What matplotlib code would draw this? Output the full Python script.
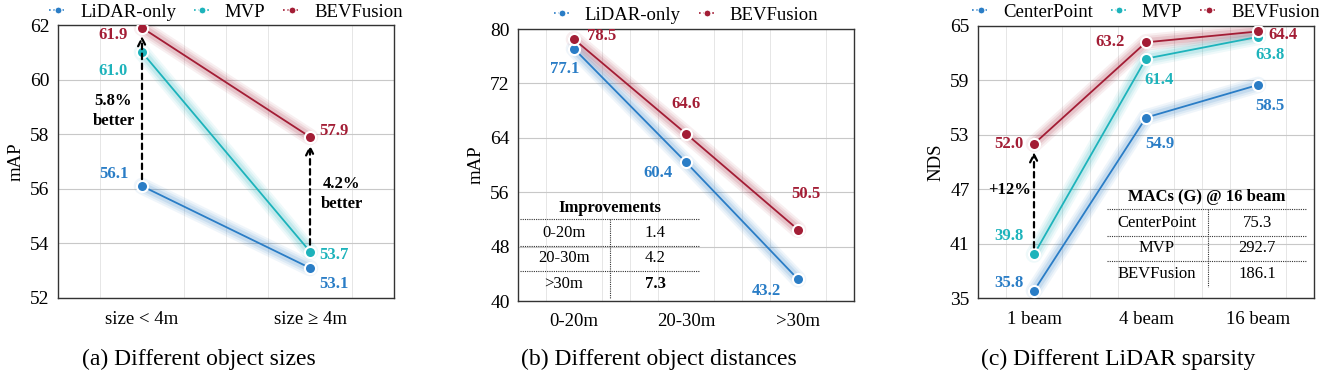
import matplotlib
matplotlib.use("Agg")
import matplotlib.pyplot as plt
from matplotlib.ticker import MultipleLocator
from matplotlib.lines import Line2D

plt.rcParams['font.family'] = ['Liberation Serif', 'DejaVu Serif']
plt.rcParams['mathtext.fontset'] = 'stix'

BLUE = '#2a7dc6'
TEAL = '#1db3bb'
RED = '#a31d35'

# ---- data ----
sizes_cats = ['size < 4m', 'size ≥ 4m']
sizes_lidar = [56.1, 53.1]
sizes_mvp = [61.0, 53.7]
sizes_bev = [61.9, 57.9]
sizes_yticks = [52, 54, 56, 58, 60, 62]

dist_cats = ['0-20m', '20-30m', '>30m']
dist_lidar = [77.1, 60.4, 43.2]
dist_bev = [78.5, 64.6, 50.5]
dist_yticks = [40, 48, 56, 64, 72, 80]
dist_improve_rows = ['0-20m', '20-30m', '>30m']
dist_improve_vals = ['1.4', '4.2', '7.3']

beam_cats = ['1 beam', '4 beam', '16 beam']
beam_center = [35.8, 54.9, 58.5]
beam_mvp = [39.8, 61.4, 63.8]
beam_bev = [52.0, 63.2, 64.4]
beam_yticks = [35, 41, 47, 53, 59, 65]
macs_models = ['CenterPoint', 'MVP', 'BEVFusion']
macs_vals = ['75.3', '292.7', '186.1']

W, H = 1319, 374
fig = plt.figure(figsize=(W / 100, H / 100), dpi=100)


def px_axes(x0, x1, y0, y1):
    return fig.add_axes([x0 / W, 1 - y1 / H, (x1 - x0) / W, (y1 - y0) / H])


def fpx(x, y):
    return (x / W, 1 - y / H)


def glow_line(ax, xs, ys, color):
    for lw, a in [(12, 0.07), (9, 0.09), (6, 0.13)]:
        ax.plot(xs, ys, color=color, lw=lw, alpha=a, solid_capstyle='round', zorder=2)
    ax.plot(xs, ys, color=color, lw=1.3, zorder=3, marker='o', ms=8,
            mfc=color, mec='white', mew=1.5)


def style(ax, cats, yticks, ylabel):
    ax.set_xlim(-0.5, len(cats) - 0.5)
    ax.set_ylim(yticks[0], yticks[-1])
    ax.set_yticks(yticks)
    ax.set_xticks(range(len(cats)))
    ax.set_xticklabels(cats, fontsize=13.5)
    ax.xaxis.set_minor_locator(MultipleLocator(0.25))
    ax.grid(axis='y', which='major', color='#c8c8c8', lw=0.8, zorder=0)
    ax.grid(axis='x', which='minor', color='#e6e6e6', lw=0.7, zorder=0)
    ax.tick_params(which='both', length=0, labelsize=14, pad=6)
    ax.tick_params(axis='x', labelsize=13.5, pad=9)
    ax.set_ylabel(ylabel, fontsize=13.5)
    for s in ax.spines.values():
        s.set_color('#333333')
        s.set_linewidth(1.0)


def legend(ax, names, colors, x, y):
    handles = [Line2D([], [], color=c, ls=':', lw=1.2, marker='o', ms=5, mec='white', mew=0.8)
               for c in colors]
    fig.legend(handles, names, loc='center', bbox_to_anchor=fpx(x, y), ncol=len(names),
               frameon=False, fontsize=13.5, handlelength=0.9, handletextpad=0.75,
               columnspacing=0.95, borderaxespad=0, borderpad=0)


def vlabel(ax, x, y, s, color, ha='center'):
    ax.text(x, y, s, color=color, fontsize=12, fontweight='bold', ha=ha, va='center', zorder=5)


def arrow(ax, x, y0, y1):
    ax.annotate('', xy=(x, y1 - (ax.get_ylim()[1] - ax.get_ylim()[0]) * 0.015), xytext=(x, y0),
                arrowprops=dict(arrowstyle='->', ls=(0, (2.5, 2)), lw=1.6, color='black',
                                shrinkA=5, shrinkB=3, mutation_scale=14), zorder=4)


# ---- (a) ----
ax1 = px_axes(58, 394, 25, 298)
style(ax1, sizes_cats, sizes_yticks, 'mAP')
x = range(len(sizes_cats))
glow_line(ax1, x, sizes_lidar, BLUE)
glow_line(ax1, x, sizes_mvp, TEAL)
glow_line(ax1, x, sizes_bev, RED)
arrow(ax1, 0, sizes_lidar[0], sizes_bev[0])
arrow(ax1, 1, sizes_mvp[1], sizes_bev[1])
vlabel(ax1, -0.17, 61.62, f'{sizes_bev[0]:.1f}', RED)
vlabel(ax1, -0.17, 60.3, f'{sizes_mvp[0]:.1f}', TEAL)
vlabel(ax1, -0.17, 56.55, f'{sizes_lidar[0]:.1f}', BLUE)
vlabel(ax1, 1.14, 58.1, f'{sizes_bev[1]:.1f}', RED)
vlabel(ax1, 1.14, 53.57, f'{sizes_mvp[1]:.1f}', TEAL)
vlabel(ax1, 1.14, 52.5, f'{sizes_lidar[1]:.1f}', BLUE)
ax1.text(-0.17, 58.85, '5.8%\nbetter', fontsize=12, fontweight='bold', ha='center', va='center',
         linespacing=1.3, zorder=5)
ax1.text(1.19, 55.8, '4.2%\nbetter', fontsize=12, fontweight='bold', ha='center', va='center',
         linespacing=1.3, zorder=5)
legend(ax1, ['LiDAR-only', 'MVP', 'BEVFusion'], [BLUE, TEAL, RED], 226, 12)
fig.text(*fpx(199, 359), '(a) Different object sizes', ha='center', va='center', fontsize=17)

# ---- (b) ----
ax2 = px_axes(518, 854, 29, 301)
style(ax2, dist_cats, dist_yticks, 'mAP')
x = range(len(dist_cats))
glow_line(ax2, x, dist_lidar, BLUE)
glow_line(ax2, x, dist_bev, RED)
vlabel(ax2, 0.25, 78.97, f'{dist_bev[0]:.1f}', RED)
vlabel(ax2, -0.08, 74.1, f'{dist_lidar[0]:.1f}', BLUE)
vlabel(ax2, 1.0, 69.0, f'{dist_bev[1]:.1f}', RED)
vlabel(ax2, 0.75, 58.8, f'{dist_lidar[1]:.1f}', BLUE)
vlabel(ax2, 2.07, 55.7, f'{dist_bev[2]:.1f}', RED)
vlabel(ax2, 1.72, 41.5, f'{dist_lidar[2]:.1f}', BLUE)
legend(ax2, ['LiDAR-only', 'BEVFusion'], [BLUE, RED], 686, 15)
fig.text(*fpx(659, 359), '(b) Different object distances', ha='center', va='center', fontsize=17)


def table(x0, x1, xmid, header, header_y, line_ys, bottom, c1, c2, rows, vals, bold_last):
    fig.text(*fpx((x0 + x1) / 2, header_y), header,
             ha='center', va='center', fontsize=12, fontweight='bold')
    for ly in line_ys:
        fig.add_artist(Line2D([x0 / W, x1 / W], [1 - ly / H] * 2, color='#333333',
                              ls=(0, (1, 1)), lw=0.8))
    fig.add_artist(Line2D([xmid / W] * 2, [1 - line_ys[0] / H, 1 - bottom / H],
                          color='#333333', ls=(0, (1, 1)), lw=0.8))
    ys = [(line_ys[i] + (line_ys[i + 1] if i + 1 < len(line_ys) else bottom)) / 2
          for i in range(len(line_ys))]
    for i, (r, v) in enumerate(zip(rows, vals)):
        fig.text(*fpx(c1, ys[i]), r, ha='center', va='center', fontsize=12)
        fw = 'bold' if (bold_last and i == len(rows) - 1) else 'normal'
        fig.text(*fpx(c2, ys[i]), v, ha='center', va='center', fontsize=12, fontweight=fw)


table(520, 699, 610, 'Improvements', 208, [219, 246, 271], 298, 564, 655,
      dist_improve_rows, dist_improve_vals, True)

# ---- (c) ----
ax3 = px_axes(978, 1314, 26, 298)
style(ax3, beam_cats, beam_yticks, 'NDS')
x = range(len(beam_cats))
glow_line(ax3, x, beam_center, BLUE)
glow_line(ax3, x, beam_mvp, TEAL)
glow_line(ax3, x, beam_bev, RED)
arrow(ax3, 0, beam_mvp[0], beam_bev[0])
vlabel(ax3, 2.22, 64.0, f'{beam_bev[2]:.1f}', RED)
vlabel(ax3, 2.11, 61.8, f'{beam_mvp[2]:.1f}', TEAL)
vlabel(ax3, 2.11, 56.2, f'{beam_center[2]:.1f}', BLUE)
vlabel(ax3, 0.68, 63.2, f'{beam_bev[1]:.1f}', RED)
vlabel(ax3, 1.12, 59.0, f'{beam_mvp[1]:.1f}', TEAL)
vlabel(ax3, 1.12, 52.0, f'{beam_center[1]:.1f}', BLUE)
vlabel(ax3, -0.22, 52.0, f'{beam_bev[0]:.1f}', RED)
vlabel(ax3, -0.22, 41.8, f'{beam_mvp[0]:.1f}', TEAL)
vlabel(ax3, -0.22, 36.7, f'{beam_center[0]:.1f}', BLUE)
ax3.text(-0.22, 46.9, '+12%', fontsize=12, fontweight='bold', ha='center', va='center', zorder=5)
legend(ax3, ['CenterPoint', 'MVP', 'BEVFusion'], [BLUE, TEAL, RED], 1146, 12)
fig.text(*fpx(1118, 359), '(c) Different LiDAR sparsity', ha='center', va='center', fontsize=17)
table(1107, 1307, 1208, 'MACs (G) @ 16 beam', 197, [209, 236, 261], 287, 1157, 1257,
      macs_models, macs_vals, False)

fig.savefig('out.png', dpi=100)
